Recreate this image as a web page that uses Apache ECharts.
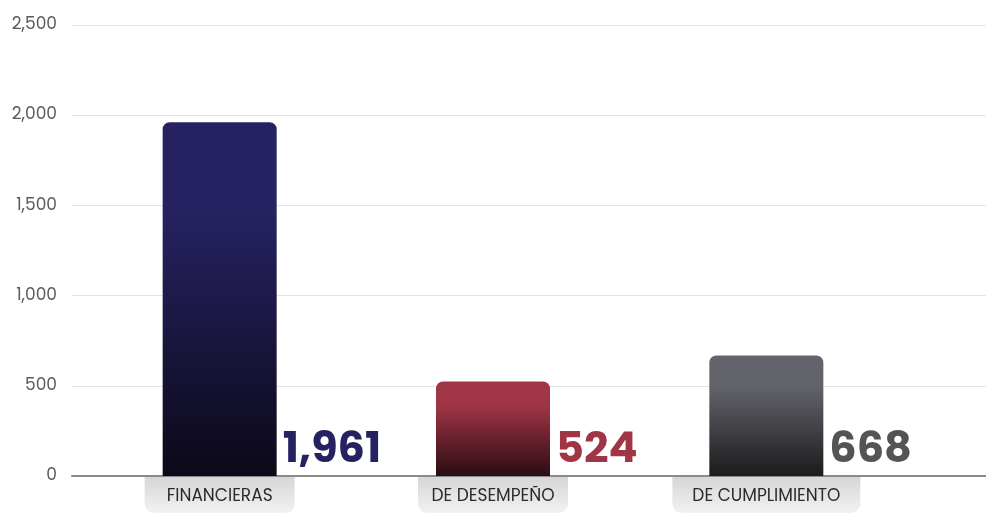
<!DOCTYPE html>
<html>
<head>
<meta charset="utf-8">
<script src="https://cdn.jsdelivr.net/npm/echarts@6/dist/echarts.min.js"></script>
<style>
  html, body { margin: 0; padding: 0; background: #fff; }
  #main { width: 986px; height: 514px; }
</style>
</head>
<body>
<div id="main"></div>
<script>
  const categories = ['FINANCIERAS', 'DE DESEMPEÑO', 'DE CUMPLIMIENTO'];
  const values = [1961, 524, 668];
  const yTicks = [0, 500, 1000, 1500, 2000, 2500];

  // colores por barra: arriba, abajo, etiqueta
  const topColors = ['#262262', '#a03545', '#63636b'];
  const bottomColors = ['#0b0918', '#2a0c12', '#1b1b1d'];
  const labelColors = ['#262262', '#a03545', '#545454'];

  const font = 'Poppins, Inter, sans-serif';
  const chart = echarts.init(document.getElementById('main'));

  const barData = values.map(function (v, i) {
    return {
      value: v,
      itemStyle: {
        color: new echarts.graphic.LinearGradient(0, 0, 0, 1, [
          {offset: 0, color: topColors[i]},
          {offset: 0.25, color: topColors[i]},
          {offset: 1, color: bottomColors[i]}
        ])
      },
      label: {color: labelColors[i]}
    };
  });

  const tagStyle = {fontFamily: font, fontSize: 17, color: '#2b2b2b', lineHeight: 20};

  chart.setOption({
    animation: false,
    grid: [
      {left: 72, right: 0, top: 25, bottom: 38, outerBoundsMode: 'none'},
      {left: 83, right: 83, top: 25, bottom: 38, outerBoundsMode: 'none'}
    ],
    xAxis: [
      {
        gridIndex: 0, type: 'category', data: [''],
        axisLine: {lineStyle: {color: '#8a8a8a', width: 2}},
        axisTick: {show: false}, axisLabel: {show: false}
      },
      {
        gridIndex: 1, type: 'category', data: categories,
        axisLine: {show: false}, axisTick: {show: false},
        axisLabel: {
          margin: 1,
          fontFamily: font, fontSize: 17, color: '#2b2b2b',
          lineHeight: 20,
          padding: [10, 20, 6, 20],
          borderRadius: [0, 0, 9, 9],
          backgroundColor: new echarts.graphic.LinearGradient(0, 0, 0, 1, [
            {offset: 0, color: '#d6d6d8'},
            {offset: 1, color: '#f2f2f3'}
          ]),
          // cajas cortas con ancho minimo
          formatter: function (v) {
            return v.length > 12 ? '{t|' + v + '}' : '{m|' + v + '}';
          },
          rich: {
            t: tagStyle,
            m: Object.assign({width: 110, align: 'center'}, tagStyle)
          }
        }
      }
    ],
    yAxis: [
      {
        gridIndex: 0, type: 'value', min: yTicks[0], max: yTicks[yTicks.length - 1], interval: 500,
        axisLine: {show: false}, axisTick: {show: false},
        splitLine: {lineStyle: {color: '#e2e2e2', width: 1}},
        axisLabel: {
          margin: 15, fontFamily: font, fontSize: 17, color: '#5a5a5a',
          formatter: function (v) { return v.toLocaleString('en-US'); }
        }
      },
      {
        gridIndex: 1, type: 'value', min: yTicks[0], max: yTicks[yTicks.length - 1], interval: 500,
        show: false
      }
    ],
    series: [{
      type: 'bar',
      xAxisIndex: 1, yAxisIndex: 1,
      barWidth: 114,
      z: 3,
      itemStyle: {borderRadius: [7, 7, 0, 0]},
      data: barData,
      label: {
        show: true,
        position: ['100%', '100%'],
        align: 'left',
        verticalAlign: 'bottom',
        offset: [6, -3],
        fontFamily: font,
        fontWeight: 'bold',
        fontSize: 43,
        formatter: function (p) { return p.value.toLocaleString('en-US'); }
      }
    }]
  });
</script>
</body>
</html>
